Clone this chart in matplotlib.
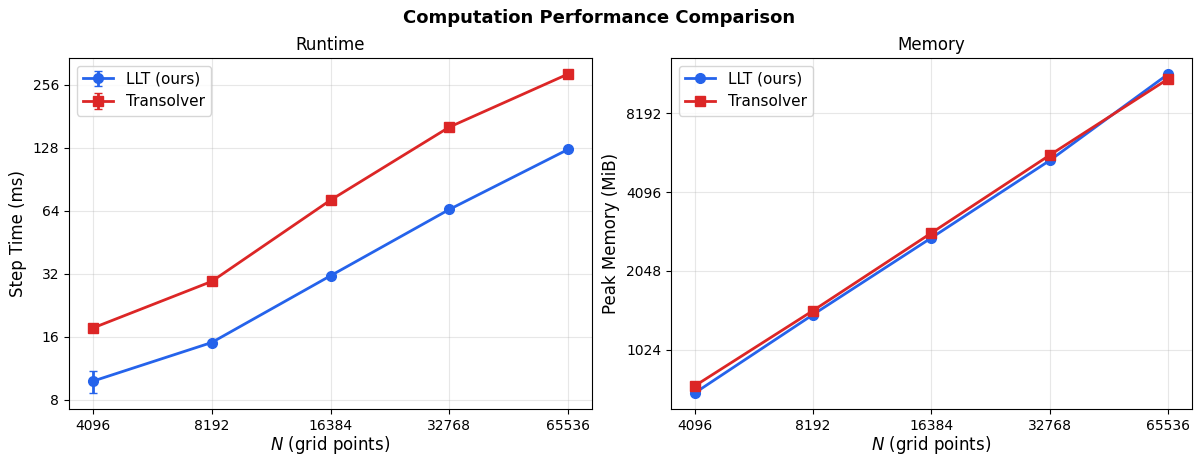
import matplotlib
matplotlib.use("Agg")
import matplotlib.pyplot as plt
from matplotlib.ticker import FixedLocator, FixedFormatter, NullLocator

N = [4096, 8192, 16384, 32768, 65536]
llt_time = [9.8, 15.0, 31.3, 65.0, 126.0]
llt_time_err = [1.2, 0.0, 0.0, 0.0, 0.0]
trans_time = [17.6, 29.4, 72.0, 161.0, 289.0]
trans_time_err = [0.0, 0.0, 0.0, 0.0, 0.0]
llt_mem = [700, 1395, 2740, 5410, 11560]
trans_mem = [745, 1445, 2860, 5670, 11080]
time_ticks = [8, 16, 32, 64, 128, 256]
mem_ticks = [1024, 2048, 4096, 8192]

blue = "#2563eb"
red = "#dc2626"

W, H = 1199, 457
fig = plt.figure(figsize=(W / 100, H / 100), dpi=100)
ax1 = fig.add_axes([69 / W, 1 - 409 / H, (592 - 69) / W, (409 - 58) / H])
ax2 = fig.add_axes([671 / W, 1 - 409 / H, (1192 - 671) / W, (409 - 58) / H])

ax1.errorbar(N, llt_time, yerr=llt_time_err, color=blue, marker="o", ms=7, lw=2,
             capsize=3, label="LLT (ours)")
ax1.errorbar(N, trans_time, yerr=trans_time_err, color=red, marker="s", ms=7, lw=2,
             capsize=3, label="Transolver")
ax2.plot(N, llt_mem, color=blue, marker="o", ms=7, lw=2, label="LLT (ours)")
ax2.plot(N, trans_mem, color=red, marker="s", ms=7, lw=2, label="Transolver")

for ax, ticks, ylabel, title in [(ax1, time_ticks, "Step Time (ms)", "Runtime"),
                                  (ax2, mem_ticks, "Peak Memory (MiB)", "Memory")]:
    ax.set_xscale("log", base=2)
    ax.set_yscale("log", base=2)
    ax.xaxis.set_major_locator(FixedLocator(N))
    ax.xaxis.set_major_formatter(FixedFormatter([str(n) for n in N]))
    ax.xaxis.set_minor_locator(NullLocator())
    ax.yaxis.set_major_locator(FixedLocator(ticks))
    ax.yaxis.set_major_formatter(FixedFormatter([str(t) for t in ticks]))
    ax.yaxis.set_minor_locator(NullLocator())
    ax.set_xlabel("$N$ (grid points)", fontsize=12, labelpad=1)
    ax.set_ylabel(ylabel, fontsize=12)
    ax.set_title(title, fontsize=12)
    ax.grid(True, alpha=0.3)
    ax.legend(loc="upper left", fontsize=11)

fig.suptitle("Computation Performance Comparison", fontsize=13, fontweight="bold",
             y=1 - 18 / H, va="center")
fig.savefig("out.png", dpi=100)
